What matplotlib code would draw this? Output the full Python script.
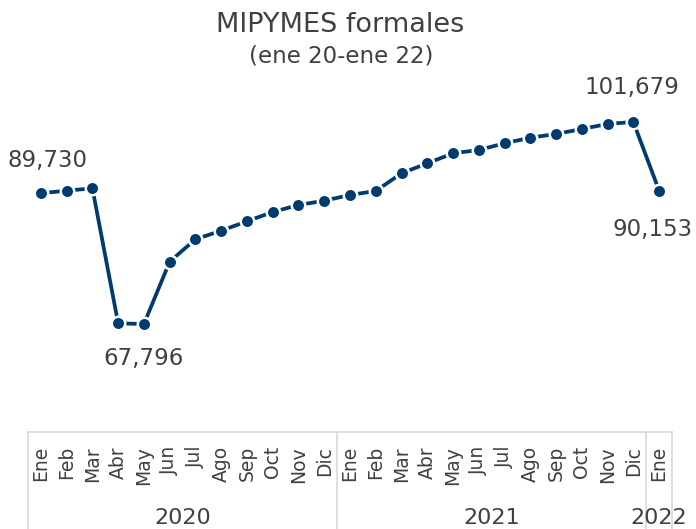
import matplotlib
matplotlib.use("Agg")
import matplotlib.pyplot as plt
import matplotlib.transforms as mtransforms

months = ["Ene", "Feb", "Mar", "Abr", "May", "Jun", "Jul", "Ago", "Sep", "Oct", "Nov", "Dic",
          "Ene", "Feb", "Mar", "Abr", "May", "Jun", "Jul", "Ago", "Sep", "Oct", "Nov", "Dic",
          "Ene"]
years = ["2020", "2021", "2022"]
year_sizes = [12, 12, 1]
values = [89730, 90150, 90550, 67900, 67796, 78250, 82000, 83440, 85020, 86580, 87750, 88470,
          89430, 90100, 93070, 94740, 96420, 96980, 98100, 99040, 99660, 100500, 101340, 101679,
          90153]
labeled = {0: (7, 33), 4: (0, -35), 23: (-1, 34), 24: (-7, -39)}

color = "#003B6F"
text_color = "#404040"
grid_color = "#D9D9D9"
plt.rcParams['font.family'] = ['DejaVu Sans']

W, H = 696, 529
fig = plt.figure(figsize=(W / 100, H / 100), dpi=100)
ax_left, ax_right, ax_bottom_px, ax_top_px = 28, 672, 432, 80
ax = fig.add_axes([ax_left / W, (H - ax_bottom_px) / H, (ax_right - ax_left) / W,
                   (ax_bottom_px - ax_top_px) / H])

x = list(range(len(values)))
ax.plot(x, values, color=color, lw=2.7, marker='o', ms=9.7, mfc=color,
        mec='white', mew=1.8, solid_capstyle='butt', zorder=3)

ax.set_xlim(-0.5, len(values) - 0.5)
ax.set_ylim(49684, 108715)
for s in ax.spines.values():
    s.set_visible(False)
ax.set_yticks([])
ax.set_xticks(x)
ax.set_xticklabels(months, rotation=90, va='top', ha='center', fontsize=13.5, color=text_color)
ax.tick_params(axis='x', length=0, pad=10)

for i, (dx, dy) in labeled.items():
    ax.annotate(f"{values[i]:,}", (x[i], values[i]), xytext=(dx, dy), textcoords='offset pixels',
                ha='center', va='center', fontsize=16.5, color=text_color)

# category axis frame
trans = mtransforms.blended_transform_factory(ax.transData, ax.transAxes)
ax_h_px = ax_bottom_px - ax_top_px
y_bot = -(H - ax_bottom_px) / ax_h_px
ax.plot([-0.5, len(values) - 0.5], [0, 0], transform=trans, color=grid_color, lw=1.2, clip_on=False)
bounds = [-0.5]
for n in year_sizes:
    bounds.append(bounds[-1] + n)
for b in bounds:
    ax.plot([b, b], [0, y_bot], transform=trans, color=grid_color, lw=1.2, clip_on=False)
year_y = -(518 - ax_bottom_px) / ax_h_px
for yr, a, b in zip(years, bounds[:-1], bounds[1:]):
    ax.text((a + b) / 2, year_y, yr, transform=trans, ha='center', va='center',
            fontsize=16, color=text_color)

fig.text(340 / W, 1 - 24.5 / H, "MIPYMES formales", ha='center', va='center', fontsize=19.5,
         color=text_color)
fig.text(341 / W, 1 - 56 / H, "(ene 20-ene 22)", ha='center', va='center', fontsize=16.5,
         color=text_color)

fig.savefig("out.png", dpi=100)
